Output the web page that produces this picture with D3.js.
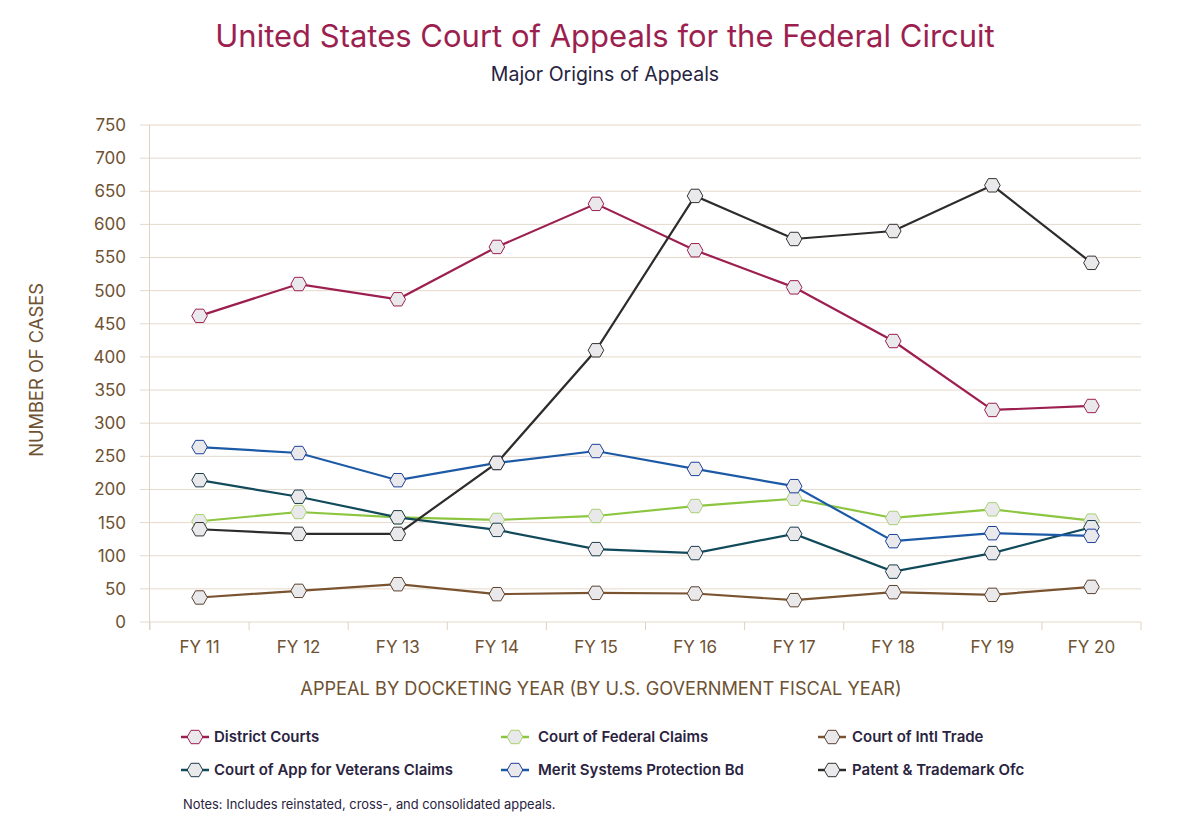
<!DOCTYPE html>
<html><head><meta charset="utf-8">
<script src="https://cdn.jsdelivr.net/npm/d3@7"></script>
<style>
body{margin:0;background:#fff;}
svg{font-family:Inter, Roboto, "Noto Sans", sans-serif;}
</style></head>
<body><svg id="chart" width="1185" height="824"></svg>
<script>
const categories = ["FY 11","FY 12","FY 13","FY 14","FY 15","FY 16","FY 17","FY 18","FY 19","FY 20"];
const yTicks = [0,50,100,150,200,250,300,350,400,450,500,550,600,650,700,750];
const seriesNames = ["District Courts","Court of Federal Claims","Court of Intl Trade","Court of App for Veterans Claims","Merit Systems Protection Bd","Patent & Trademark Ofc"];
const districtCourts = [462,510,487,566,631,561,505,424,320,326];
const federalClaims = [152,166,158,154,160,175,186,157,170,153];
const intlTrade = [37,47,57,42,44,43,33,45,41,53];
const veteransClaims = [214,189,158,139,110,104,133,76,104,143];
const meritSystems = [264,255,214,240,258,231,205,122,134,130];
const patentTrademark = [140,133,133,240,410,643,578,590,659,542];
const seriesValues = [districtCourts,federalClaims,intlTrade,veteransClaims,meritSystems,patentTrademark];
const colors = ["#9c1f50","#8cc540","#7a5430","#114a5a","#1d5aa6","#2c2c2c"];
const markerStroke = ["#9c1f50","#a8d070","#5a4030","#1b3b4a","#1d3f9a","#333333"];
const drawOrder = [2,1,3,4,0,5];

const svg = d3.select("#chart");
const m = {left:150, right:1141, top:125, bottom:622};
const x = d3.scaleBand().domain(categories).range([m.left, m.right]);
const y = d3.scaleLinear().domain([0,750]).range([m.bottom, m.top]);
const axisColor = "#6e5232";

svg.append("g").selectAll("line").data(yTicks).join("line")
  .attr("x1", m.left-10).attr("x2", m.right)
  .attr("y1", d=>y(d)).attr("y2", d=>y(d))
  .attr("stroke", "#e6d9cc").attr("stroke-width",1);
svg.append("line").attr("x1",m.left-0.5).attr("x2",m.left-0.5).attr("y1",m.top).attr("y2",m.bottom+8)
  .attr("stroke","#e0d2c4");
const bounds = categories.map(c=>x(c)).concat([m.right]);
svg.append("g").selectAll("line").data(bounds).join("line")
  .attr("x1",d=>d).attr("x2",d=>d).attr("y1",m.bottom).attr("y2",m.bottom+8)
  .attr("stroke","#e0d2c4");

svg.append("g").selectAll("text").data(yTicks).join("text")
  .attr("x", 126).attr("y", d=>y(d)).attr("dy","0.35em")
  .attr("text-anchor","end").attr("font-size",17).attr("fill",axisColor)
  .text(d=>d);
svg.append("g").selectAll("text").data(categories).join("text")
  .attr("x", d=>x(d)+x.bandwidth()/2).attr("y", 647).attr("dy","0.35em")
  .attr("text-anchor","middle").attr("font-size",17).attr("fill",axisColor)
  .text(d=>d);

svg.append("text").attr("transform","translate(37,370) rotate(-90)")
  .attr("text-anchor","middle").attr("dy","0.35em").attr("font-size",18.3).attr("fill",axisColor)
  .text("NUMBER OF CASES");
svg.append("text").attr("x",601).attr("y",689).attr("dy","0.35em")
  .attr("text-anchor","middle").attr("font-size",18.2).attr("fill",axisColor)
  .text("APPEAL BY DOCKETING YEAR (BY U.S. GOVERNMENT FISCAL YEAR)");

svg.append("text").attr("x",605).attr("y",36).attr("dy","0.35em").attr("text-anchor","middle")
  .attr("font-size",31).attr("fill","#9c1f50").text("United States Court of Appeals for the Federal Circuit");
svg.append("text").attr("x",605).attr("y",74).attr("dy","0.35em").attr("text-anchor","middle")
  .attr("font-size",19.5).attr("fill","#26243f").text("Major Origins of Appeals");

function hexPath(cx, cy){
  const w=7.8, h=6.7, s=4;
  return `M${cx-w},${cy} L${cx-s},${cy-h} L${cx+s},${cy-h} L${cx+w},${cy} L${cx+s},${cy+h} L${cx-s},${cy+h} Z`;
}

const line = d3.line().x((d,i)=>x(categories[i])+x.bandwidth()/2).y(d=>y(d));
drawOrder.forEach(si=>{
  const vals = seriesValues[si];
  const g = svg.append("g");
  g.append("path").attr("d", line(vals)).attr("fill","none")
    .attr("stroke", colors[si]).attr("stroke-width",2.2);
  g.selectAll("path.mk").data(vals).join("path").attr("class","mk")
    .attr("d",(d,i)=>hexPath(x(categories[i])+x.bandwidth()/2, y(d)))
    .attr("fill","#e9e9ec").attr("stroke",markerStroke[si]).attr("stroke-width",1);
});

const legLineX = [181,501,818], legTextX = [214,538,852], legY = [737,770];
seriesNames.forEach((n,i)=>{
  const c = i%3, ly = legY[Math.floor(i/3)], lx = legLineX[c];
  const g = svg.append("g");
  g.append("line").attr("x1",lx).attr("x2",lx+28).attr("y1",ly).attr("y2",ly)
    .attr("stroke",colors[i]).attr("stroke-width",2.5);
  g.append("path").attr("d",hexPath(lx+14,ly)).attr("fill","#e9e9ec").attr("stroke",markerStroke[i]).attr("stroke-width",1);
  g.append("text").attr("x",legTextX[c]).attr("y",ly).attr("dy","0.35em").attr("font-size",15)
    .attr("font-weight",600).attr("fill","#2a2340").text(n);
});
svg.append("text").attr("x",183).attr("y",804).attr("dy","0.35em").attr("font-size",12.9)
  .attr("fill","#2a2340").text("Notes: Includes reinstated, cross-, and consolidated appeals.");
</script></body></html>
